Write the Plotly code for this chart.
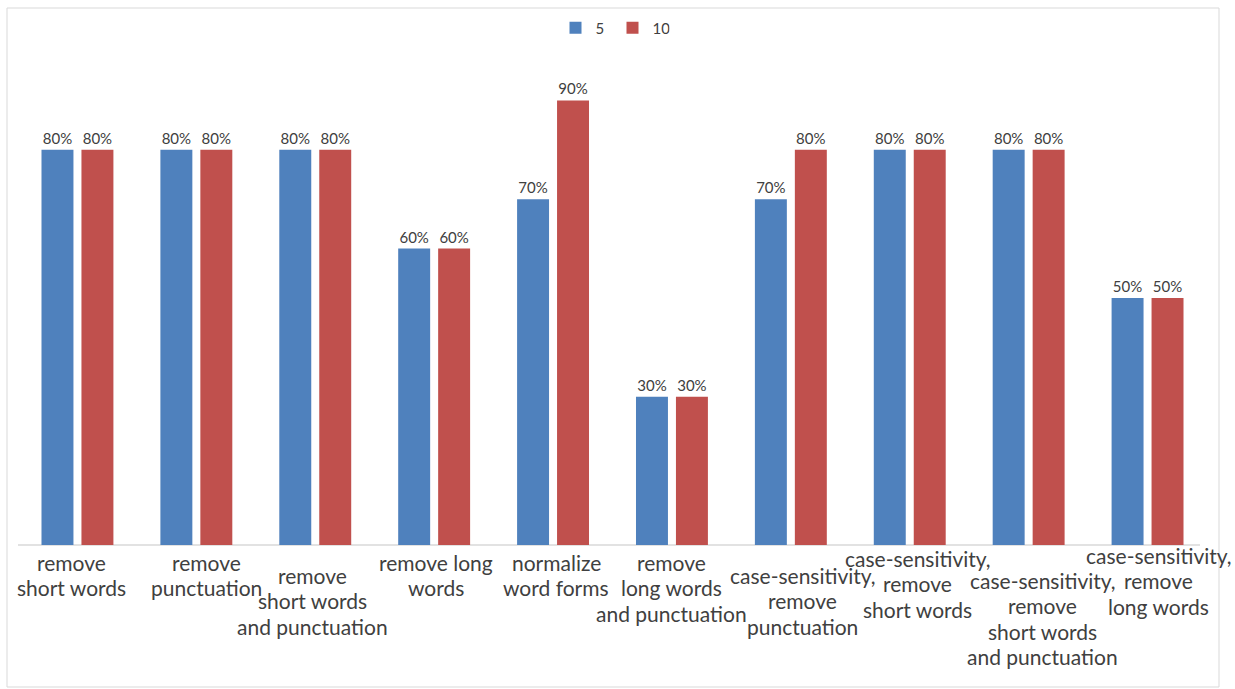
import plotly.graph_objects as go

categories = [
    "remove\nshort words",
    "remove\npunctuation",
    "remove\nshort words\nand punctuation",
    "remove long\nwords",
    "normalize\nword forms",
    "remove\nlong words\nand punctuation",
    "case-sensitivity,\nremove\npunctuation",
    "case-sensitivity,\nremove\nshort words",
    "case-sensitivity,\nremove\nshort words\nand punctuation",
    "case-sensitivity,\nremove\nlong words",
]
series_names = ["5", "10"]
values_5 = [0.8, 0.8, 0.8, 0.6, 0.7, 0.3, 0.7, 0.8, 0.8, 0.5]
values_10 = [0.8, 0.8, 0.8, 0.6, 0.9, 0.3, 0.8, 0.8, 0.8, 0.5]
colors = ["#4F81BD", "#C0504D"]

W, H = 1235, 689
ML, MR, MT, MB = 18, 28, 51, 144
PW, PH = W - ML - MR, H - MT - MB

fig = go.Figure()
for name, vals, col in zip(series_names, [values_5, values_10], colors):
    fig.add_trace(go.Bar(
        x=categories, y=vals, name=name, marker_color=col,
        marker_line_width=0,
        text=[f"{v:.0%}" for v in vals], textposition="outside",
        textfont=dict(size=15, color="#404040", family="Lato"),
        cliponaxis=False,
    ))

# staggered category labels (Excel-style): first-line offset (px below axis) and x shift
first_line = [17, 17, 30, 17, 17, 17, 30, 13, 35, 10]
x_shift = [-6, 10, -3, 2, 3, 0, 12, 8, 14, 11]
line_h = 25.5
annotations = []
for i, cat in enumerate(categories):
    for j, line in enumerate(cat.split("\n")):
        annotations.append(dict(
            x=cat, xref="x", y=0, yref="paper",
            yshift=-(first_line[i] + j * line_h), yanchor="middle",
            xshift=x_shift[i], text=line, showarrow=False,
            font=dict(size=21, color="#404040", family="Lato"),
        ))

shapes = [
    dict(type="rect", xref="paper", yref="paper",
         x0=(7 - ML) / PW, x1=(1219 - ML) / PW,
         y0=(H - MB - 687) / PH, y1=(H - MB - 8) / PH,
         line=dict(color="#D9D9D9", width=1), fillcolor="rgba(0,0,0,0)",
         layer="below"),
    dict(type="line", xref="paper", yref="paper",
         x0=0, x1=(1200 - ML) / PW, y0=0, y1=0,
         line=dict(color="#D9D9D9", width=1.5), layer="below"),
]

fig.update_layout(
    width=W, height=H,
    margin=dict(l=ML, r=MR, t=MT, b=MB, autoexpand=False),
    paper_bgcolor="white", plot_bgcolor="white",
    barmode="group", bargap=0.328, bargroupgap=0.2,
    font=dict(family="Lato", color="#404040"),
    legend=dict(orientation="h", x=0.5, xanchor="center",
                y=1 + (MT - 28) / PH, yanchor="middle",
                font=dict(size=15, color="#404040"),
                itemwidth=30, entrywidth=12, entrywidthmode="pixels",
                tracegroupgap=0),
    xaxis=dict(showticklabels=False, showline=False, range=[-0.5, 9.5],
               autorange=False, ticks="", showgrid=False, zeroline=False),
    yaxis=dict(range=[0, 1], visible=False, showgrid=False),
    annotations=annotations, shapes=shapes,
)
fig.write_html("out.html")
